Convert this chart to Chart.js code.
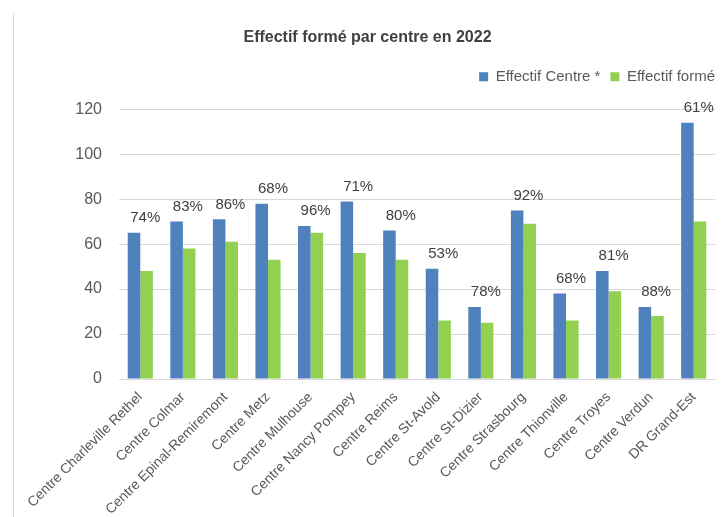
<!DOCTYPE html>
<html>
<head>
<meta charset="utf-8">
<script src="https://cdn.jsdelivr.net/npm/chart.js@4"></script>
<style>
  html, body { margin: 0; padding: 0; background: #fff; }
  #wrap { width: 726px; height: 517px; }
</style>
</head>
<body>
<div id="wrap"><canvas id="myChart" width="726" height="517"></canvas></div>
<script>
const centres = [
    'Centre Charleville Rethel',
    'Centre Colmar',
    'Centre Epinal-Remiremont',
    'Centre Metz',
    'Centre Mulhouse',
    'Centre Nancy Pompey',
    'Centre Reims',
    'Centre St-Avold',
    'Centre St-Dizier',
    'Centre Strasbourg',
    'Centre Thionville',
    'Centre Troyes',
    'Centre Verdun',
    'DR Grand-Est',
];
const effectifCentre = [65, 70, 71, 78, 68, 79, 66, 49, 32, 75, 38, 48, 32, 114];
const effectifForme = [48, 58, 61, 53, 65, 56, 53, 26, 25, 69, 26, 39, 28, 70];
const taux = ['74%', '83%', '86%', '68%', '96%', '71%', '80%', '53%', '78%', '92%', '68%', '81%', '88%', '61%'];

const FONT = "'Liberation Sans', Arial, sans-serif";

// pourcentages au-dessus de chaque groupe + trait gris à gauche
const extras = {
    id: 'extras',
    beforeInit(chart) {
        // un peu plus d'espace sous la légende
        const fit = chart.legend.fit;
        chart.legend.fit = function () {
            fit.call(this);
            this.height += 15;
        };
    },
    afterLayout(chart) {
        chart.legend.right += 10;
        chart.titleBlock.left += 10;
        chart.titleBlock.right += 10;
    },
    beforeDraw(chart) {
        const c = chart.ctx;
        c.save();
        c.fillStyle = '#fff';
        c.fillRect(0, 0, chart.width, chart.height);
        c.strokeStyle = '#d9d9d9';
        c.lineWidth = 1;
        c.beginPath();
        c.moveTo(13.5, 14);
        c.lineTo(13.5, chart.height);
        c.stroke();
        c.restore();
    },
    afterDatasetsDraw(chart) {
        const c = chart.ctx;
        const a = chart.getDatasetMeta(0).data;
        const b = chart.getDatasetMeta(1).data;
        c.save();
        c.font = '15px ' + FONT;
        c.fillStyle = '#404040';
        c.textAlign = 'center';
        c.textBaseline = 'middle';
        a.forEach((bar, i) => {
            const x = (bar.x + b[i].x) / 2 + 5;
            c.fillText(taux[i], x, bar.y - 15);
        });
        c.restore();
    }
};

const ctx = document.getElementById('myChart').getContext('2d');
const myChart = new Chart(ctx, {
    type: 'bar',
    data: {
        labels: centres,
        datasets: [{
            label: 'Effectif Centre *',
            data: effectifCentre,
            backgroundColor: '#4f81bd',
            categoryPercentage: 0.59,
            barPercentage: 1
        }, {
            label: 'Effectif formé',
            data: effectifForme,
            backgroundColor: '#92d050',
            categoryPercentage: 0.59,
            barPercentage: 1
        }]
    },
    options: {
        responsive: false,
        animation: false,
        layout: { padding: { left: 0, right: 11, top: 0, bottom: 0 } },
        plugins: {
            title: {
                display: true,
                text: 'Effectif formé par centre en 2022',
                color: '#404040',
                font: { family: FONT, size: 16, weight: 'bold' },
                padding: { top: 28, bottom: 12 }
            },
            legend: {
                align: 'end',
                labels: {
                    boxWidth: 9,
                    boxHeight: 9,
                    color: '#595959',
                    font: { family: FONT, size: 15 },
                    padding: 10
                }
            },
            tooltip: { enabled: false }
        },
        scales: {
            x: {
                grid: { display: false, drawTicks: false },
                border: { color: '#d9d9d9' },
                ticks: {
                    minRotation: 45,
                    maxRotation: 45,
                    color: '#595959',
                    font: { family: FONT, size: 14 },
                    padding: 10
                },
                afterFit(scale) { scale.height = 138; }
            },
            y: {
                min: 0,
                max: 120,
                grid: { color: '#d9d9d9', drawTicks: false },
                border: { display: false },
                ticks: {
                    stepSize: 20,
                    color: '#595959',
                    font: { family: FONT, size: 16 },
                    padding: 17
                },
                afterFit(scale) { scale.width = 119; }
            }
        }
    },
    plugins: [extras]
});
</script>
</body>
</html>
